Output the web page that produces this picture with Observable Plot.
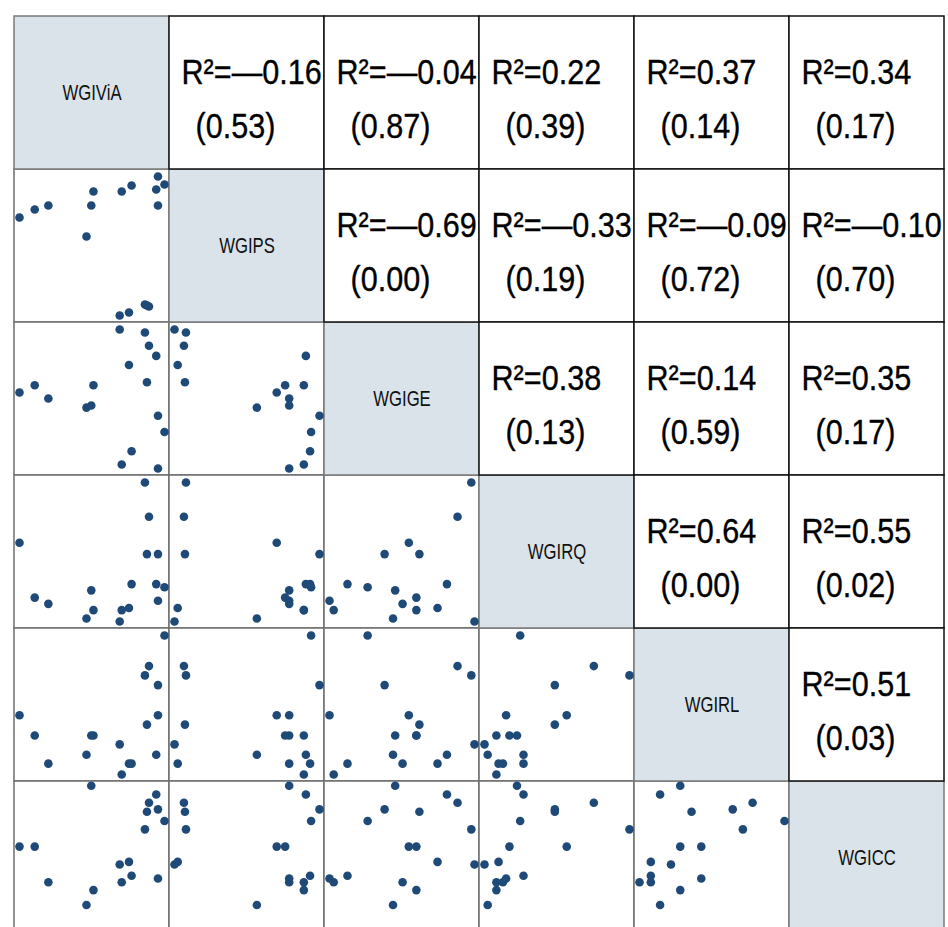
<!DOCTYPE html>
<html>
<head>
<meta charset="utf-8">
<script src="https://cdn.jsdelivr.net/npm/d3@7"></script>
<script src="https://cdn.jsdelivr.net/npm/@observablehq/plot@0.6"></script>
<style>
html, body { margin: 0; padding: 0; overflow: hidden; background: #fff; }
</style>
</head>
<body>
<div id="chart"></div>
<script>
// Variables (diagonal labels)
const variables = ["WGIViA", "WGIPS", "WGIGE", "WGIRQ", "WGIRL", "WGICC"];

const WGIViA = [0.00, 0.105, 0.199, 0.462, 0.495, 0.510, 0.691, 0.705, 0.755, 0.773, 0.865, 0.879, 0.893, 0.943, 0.955, 0.955, 1.00];
const WGIPS  = [0.705, 0.763, 0.791, 0.568, 0.791, 0.892, 0.00, 0.892, 0.022, 0.935, 0.079, 0.072, 0.065, 0.906, 1.00, 0.791, 0.942];
const WGIGE  = [0.547, 0.599, 0.504, 0.438, 0.453, 0.599, 1.00, 0.029, 0.745, 0.124, 0.978, 0.620, 0.883, 0.810, 0.380, 0.00, 0.263];
const WGIRQ  = [0.567, 0.172, 0.127, 0.022, 0.224, 0.082, 0.00, 0.082, 0.097, 0.269, 1.00, 0.485, 0.754, 0.269, 0.485, 0.149, 0.246];
const WGIRL  = [0.426, 0.281, 0.078, 0.142, 0.281, 0.281, 0.217, 0.00, 0.078, 0.078, 0.713, 0.359, 0.780, 0.142, 0.643, 0.426, 1.00];
const WGICC  = [0.582, 0.582, 0.325, 0.162, 1.02, 0.269, 0.453, 0.325, 0.472, 0.372, 0.706, 0.833, 0.898, 0.957, 0.850, 0.353, 0.766];

// Upper-triangle statistics, in reading order (row by row)
const rValues = [-0.16, -0.04, 0.22, 0.37, 0.34, -0.69, -0.33, -0.09, -0.10, 0.38, 0.14, 0.35, 0.64, 0.55, 0.51];
const pValues = [0.53, 0.87, 0.39, 0.14, 0.17, 0.00, 0.19, 0.72, 0.70, 0.13, 0.59, 0.17, 0.00, 0.02, 0.03];

const series = [WGIViA, WGIPS, WGIGE, WGIRQ, WGIRL, WGICC];

// Build tables for Plot
const points = [];
const lowerCells = [], diagCells = [], upperCells = [];
let u = 0;
for (let i = 0; i < variables.length; i++) {
  for (let j = 0; j < variables.length; j++) {
    const cell = {row: variables[i], col: variables[j]};
    if (i > j) {
      lowerCells.push(cell);
      for (let k = 0; k < series[0].length; k++) {
        points.push({row: variables[i], col: variables[j], x: series[j][k], y: series[i][k]});
      }
    } else if (i === j) {
      diagCells.push({...cell, label: variables[i]});
    } else {
      const r = rValues[u], p = pValues[u];
      u++;
      upperCells.push({
        ...cell,
        line1: "R²=" + (r < 0 ? "—" : "") + Math.abs(r).toFixed(2),
        line2: "(" + p.toFixed(2) + ")"
      });
    }
  }
}

const chart = Plot.plot({
  width: 948,
  height: 936,
  marginTop: 14,
  marginLeft: 12,
  marginRight: 3,
  marginBottom: 0,
  style: {fontFamily: "'Liberation Sans', Arial, sans-serif", background: "#fff"},
  x: {domain: [0, 1], inset: 5, axis: null},
  y: {domain: [0, 1], inset: 7, axis: null},
  fx: {domain: variables, padding: 0, axis: null},
  fy: {domain: variables, padding: 0, axis: null},
  marks: [
    Plot.rect(lowerCells, {fx: "col", fy: "row", fill: "#ffffff", stroke: "#6e6e6e", strokeWidth: 1.5}),
    Plot.rect(diagCells, {fx: "col", fy: "row", fill: "#d9e3e9", stroke: "#7a7a7a", strokeWidth: 1.5}),
    Plot.rect(upperCells, {fx: "col", fy: "row", fill: "#ffffff", stroke: "#111111", strokeWidth: 1.5}),
    Plot.dot(points, {fx: "col", fy: "row", x: "x", y: "y", r: 4.3, fill: "#1f4a78", stroke: "none"}),
    Plot.text(diagCells, {fx: "col", fy: "row", text: "label", frameAnchor: "middle", fontSize: 22, fill: "#111"}),
    Plot.text(upperCells, {fx: "col", fy: "row", text: "line1", frameAnchor: "top-left", dx: 12, dy: 56,
      textAnchor: "start", lineAnchor: "middle", fontSize: 34, fill: "#000", stroke: "#000", strokeWidth: 0.35}),
    Plot.text(upperCells, {fx: "col", fy: "row", text: "line2", frameAnchor: "top-left", dx: 26, dy: 110,
      textAnchor: "start", lineAnchor: "middle", fontSize: 34, fill: "#000", stroke: "#000", strokeWidth: 0.35})
  ]
});

document.getElementById("chart").appendChild(chart);

// Condense the text horizontally, as in the original figure
chart.querySelectorAll("text").forEach(t => {
  const s = t.textContent || "";
  let sc = null;
  if (s.startsWith("R²") || s.startsWith("(")) sc = "0.9,1.05";
  else if (variables.includes(s)) sc = "0.76,1.02";
  if (sc != null) {
    const tr = t.getAttribute("transform") || "";
    t.setAttribute("transform", tr + ` scale(${sc})`);
  }
});
</script>
</body>
</html>
